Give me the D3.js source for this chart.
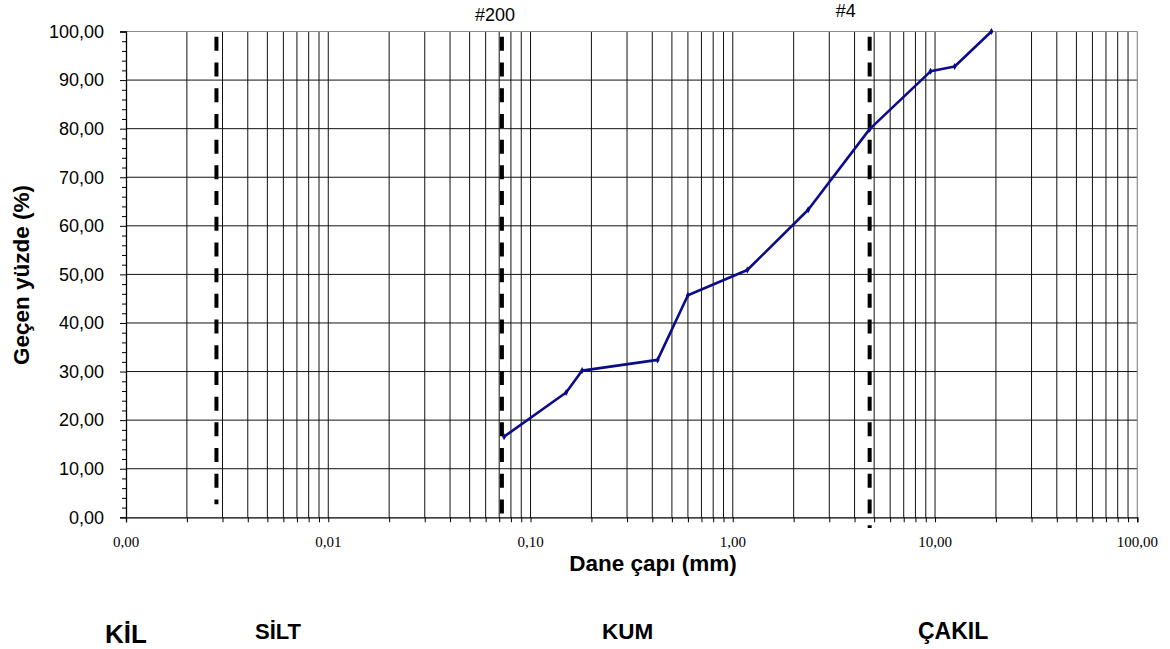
<!DOCTYPE html>
<html>
<head>
<meta charset="utf-8">
<script src="https://cdn.jsdelivr.net/npm/d3@7"></script>
<style>
  html, body { margin: 0; padding: 0; background: #fff; }
  svg { display: block; }
</style>
</head>
<body>
<svg id="chart" width="1170" height="649"></svg>
<script>
// Grain size distribution (sieve analysis)
const sieveSize = [0.074, 0.15, 0.18, 0.425, 0.6, 1.18, 2.36, 4.75, 9.5, 12.5, 19];
const percentPassing = [16.6, 25.7, 30.2, 32.4, 45.7, 50.9, 63.3, 79.9, 91.8, 92.8, 100];

// Vertical boundary lines (clay/silt, #200 sieve, #4 sieve)
const boundarySize = [0.0028, 0.0722, 4.75];
const boundaryTop = [98.9, 98.9, 98.9];
const boundaryBottom = [2.7, 0, -2.2];
const boundaryLabels = ["", "#200", "#4"];

const xTickValues = [0.001, 0.01, 0.1, 1, 10, 100];
const xTickLabels = ["0,00", "0,01", "0,10", "1,00", "10,00", "100,00"];
const yTickValues = [0, 10, 20, 30, 40, 50, 60, 70, 80, 90, 100];
const yTickLabels = ["0,00", "10,00", "20,00", "30,00", "40,00", "50,00", "60,00", "70,00", "80,00", "90,00", "100,00"];

const soilClasses = ["KİL", "SİLT", "KUM", "ÇAKIL"];

const svg = d3.select("#chart");
const plotLeft = 126, plotRight = 1137.3, plotTop = 31.5, plotBottom = 517.3;

const x = d3.scaleLog().domain([0.001, 100]).range([plotLeft, plotRight]);
const y = d3.scaleLinear().domain([0, 100]).range([plotBottom, plotTop]);

// values 1..9 in every decade
const gridX = [];
for (let e = -3; e < 2; e++) for (let k = 1; k <= 9; k++) gridX.push(k * Math.pow(10, e));
gridX.push(100);

const g = svg.append("g");

// vertical grid
g.append("g").selectAll("line").data(gridX.slice(1, -1)).join("line")
  .attr("x1", d => x(d)).attr("x2", d => x(d))
  .attr("y1", plotTop).attr("y2", plotBottom)
  .attr("stroke", "#111").attr("stroke-width", 1);

// horizontal grid
g.append("g").selectAll("line").data(yTickValues.slice(1, -1)).join("line")
  .attr("x1", plotLeft).attr("x2", plotRight)
  .attr("y1", d => y(d)).attr("y2", d => y(d))
  .attr("stroke", "#111").attr("stroke-width", 1);

// plot frame: top and right in grey
g.append("line").attr("x1", plotLeft).attr("x2", plotRight).attr("y1", plotTop).attr("y2", plotTop)
  .attr("stroke", "#8c8c8c").attr("stroke-width", 1.2);
g.append("line").attr("x1", plotRight).attr("x2", plotRight).attr("y1", plotTop).attr("y2", plotBottom)
  .attr("stroke", "#8c8c8c").attr("stroke-width", 1.2);

// x axis (ticks at every grid line, labels at decades)
const xAxis = d3.axisBottom(x).tickValues(gridX).tickSize(5).tickFormat("");
const xa = svg.append("g").attr("transform", `translate(0,${plotBottom})`).call(xAxis);
xa.select(".domain").attr("stroke", "#000").attr("stroke-width", 1.3);
xa.selectAll(".tick line").attr("stroke", "#000");

svg.append("g").selectAll("text").data(xTickValues).join("text")
  .attr("x", d => x(d)).attr("y", 547)
  .attr("text-anchor", "middle")
  .attr("font-family", "'Liberation Serif', 'Times New Roman', serif")
  .attr("font-size", 15).attr("fill", "#000")
  .text((d, i) => xTickLabels[i]);

// y axis: major every 10, minor every 2
const yMinor = d3.range(0, 101, 2).filter(v => v % 10 !== 0);
const yAxisMinor = d3.axisLeft(y).tickValues(yMinor).tickSize(4).tickFormat("");
const yam = svg.append("g").attr("transform", `translate(${plotLeft},0)`).call(yAxisMinor);
yam.select(".domain").remove();
yam.selectAll(".tick line").attr("stroke", "#000");

const yAxis = d3.axisLeft(y).tickValues(yTickValues).tickSize(6).tickPadding(16)
  .tickFormat((d, i) => yTickLabels[i]);
const ya = svg.append("g").attr("transform", `translate(${plotLeft},0)`).call(yAxis);
ya.select(".domain").attr("stroke", "#000").attr("stroke-width", 1.3);
ya.selectAll(".tick line").attr("stroke", "#000");
ya.selectAll(".tick text")
  .attr("font-family", "'Liberation Sans', Arial, sans-serif")
  .attr("font-size", 18).attr("fill", "#000");

// boundary dashed lines
svg.append("g").selectAll("line").data(boundarySize).join("line")
  .attr("x1", d => x(d)).attr("x2", d => x(d))
  .attr("y1", (d, i) => y(boundaryTop[i])).attr("y2", (d, i) => y(boundaryBottom[i]))
  .attr("stroke", "#000").attr("stroke-width", 4)
  .attr("stroke-dasharray", "14,11.7");

// boundary labels
const labelDx = [0, -7, -24];
const labelY = [0, 20.7, 17.3];
svg.append("g").selectAll("text").data(boundarySize).join("text")
  .attr("x", (d, i) => x(d) + labelDx[i]).attr("y", (d, i) => labelY[i])
  .attr("text-anchor", "middle")
  .attr("font-family", "'Liberation Sans', Arial, sans-serif")
  .attr("font-size", 18).attr("fill", "#000")
  .text((d, i) => boundaryLabels[i]);

// gradation curve
const pts = sieveSize.map((s, i) => [s, percentPassing[i]]);
svg.append("path").datum(pts)
  .attr("fill", "none").attr("stroke", "#0c0c8a").attr("stroke-width", 2.6)
  .attr("stroke-linejoin", "round")
  .attr("d", d3.line().x(d => x(d[0])).y(d => y(d[1])));

svg.append("g").selectAll("path").data(pts).join("path")
  .attr("transform", d => `translate(${x(d[0])},${y(d[1])})`)
  .attr("d", d3.symbol().type(d3.symbolDiamond).size(14))
  .attr("fill", "#0c0c8a");

// axis titles
svg.append("text")
  .attr("x", 653).attr("y", 571).attr("text-anchor", "middle")
  .attr("font-family", "'Liberation Sans', Arial, sans-serif")
  .attr("font-weight", "bold").attr("font-size", 22.5).attr("fill", "#000")
  .text("Dane çapı (mm)");

svg.append("text")
  .attr("transform", "translate(28.5,275) rotate(-90)")
  .attr("text-anchor", "middle")
  .attr("font-family", "'Liberation Sans', Arial, sans-serif")
  .attr("font-weight", "bold").attr("font-size", 22.5).attr("fill", "#000")
  .text("Geçen yüzde (%)");

// soil class names
const classX = [105, 255, 602, 918];
const classY = [642.7, 639.3, 639, 639];
const classSize = [26, 22, 22.5, 23];
svg.append("g").selectAll("text").data(soilClasses).join("text")
  .attr("x", (d, i) => classX[i]).attr("y", (d, i) => classY[i])
  .attr("font-family", "'Liberation Sans', Arial, sans-serif")
  .attr("font-weight", "bold").attr("font-size", (d, i) => classSize[i]).attr("fill", "#000")
  .text(d => d);
</script>
</body>
</html>
